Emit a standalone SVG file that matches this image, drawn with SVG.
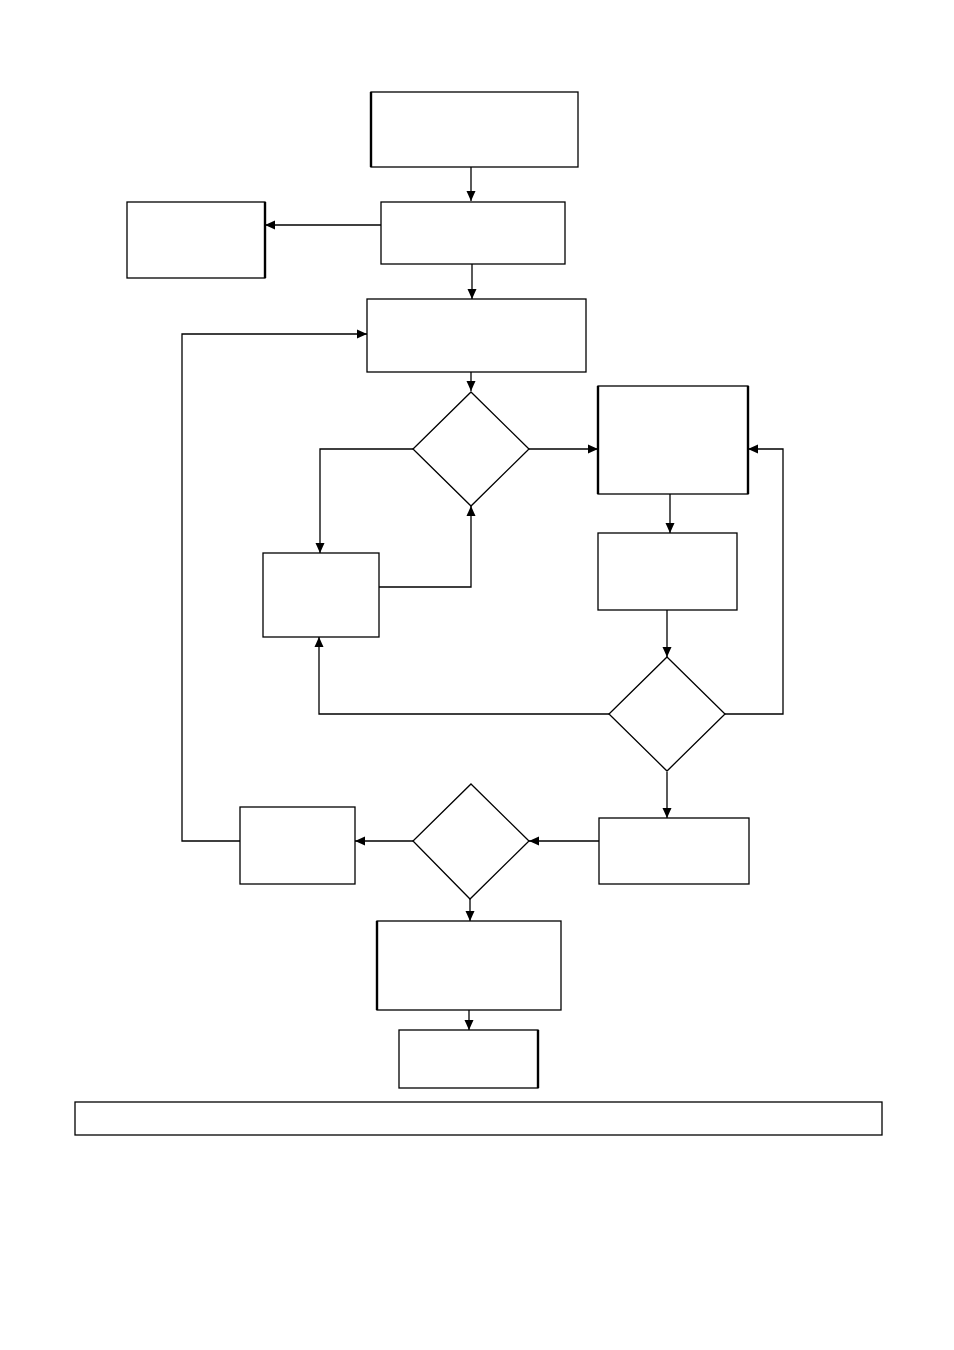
<svg xmlns="http://www.w3.org/2000/svg" width="954" height="1350" viewBox="0 0 954 1350">
<style>
.n{fill:#fff;stroke:#000;stroke-width:1.3}
.t{stroke:#000;stroke-width:2.4;fill:none}
.c{fill:none;stroke:#000;stroke-width:1.3}
</style>
<defs>
<marker id="ah" viewBox="0 0 10 10" refX="10" refY="5" markerWidth="10" markerHeight="10" markerUnits="userSpaceOnUse" orient="auto">
<path d="M0,0.5 L10,5 L0,9.5 Z" fill="#000"/>
</marker>
</defs>
<rect width="954" height="1350" fill="#fff"/>
<g id="connectors">
<path class="c" d="M471,167 V201" marker-end="url(#ah)"/>
<path class="c" d="M381,225 H265" marker-end="url(#ah)"/>
<path class="c" d="M472,264 V299" marker-end="url(#ah)"/>
<path class="c" d="M471,372 V391" marker-end="url(#ah)"/>
<path class="c" d="M529,449 H598" marker-end="url(#ah)"/>
<path class="c" d="M670,494 V533" marker-end="url(#ah)"/>
<path class="c" d="M667,610 V657" marker-end="url(#ah)"/>
<path class="c" d="M725,714 H783 V449 H748" marker-end="url(#ah)"/>
<path class="c" d="M609,714 H319 V637" marker-end="url(#ah)"/>
<path class="c" d="M413,449 H320 V553" marker-end="url(#ah)"/>
<path class="c" d="M379,587 H471 V506" marker-end="url(#ah)"/>
<path class="c" d="M667,772 V818" marker-end="url(#ah)"/>
<path class="c" d="M599,841 H529" marker-end="url(#ah)"/>
<path class="c" d="M413,841 H355" marker-end="url(#ah)"/>
<path class="c" d="M240,841 H182 V334 H367" marker-end="url(#ah)"/>
<path class="c" d="M470,899 V921" marker-end="url(#ah)"/>
<path class="c" d="M469,1010 V1030" marker-end="url(#ah)"/>
</g>
<g id="n1"><rect class="n" x="371" y="92" width="207" height="75"/><path class="t" d="M371,92 V167"/></g>
<g id="n2"><rect class="n" x="381" y="202" width="184" height="62"/></g>
<g id="n3"><rect class="n" x="127" y="202" width="138" height="76"/><path class="t" d="M265,202 V278"/></g>
<g id="n4"><rect class="n" x="367" y="299" width="219" height="73"/></g>
<g id="d1"><path class="n" d="M471,392 L529,449 L471,506 L413,449 Z"/></g>
<g id="n5"><rect class="n" x="598" y="386" width="150" height="108"/><path class="t" d="M598,386 V494 M748,386 V494"/></g>
<g id="n6"><rect class="n" x="598" y="533" width="139" height="77"/></g>
<g id="n7"><rect class="n" x="263" y="553" width="116" height="84"/></g>
<g id="d2"><path class="n" d="M667,657 L725,714 L667,771 L609,714 Z"/></g>
<g id="n8"><rect class="n" x="599" y="818" width="150" height="66"/></g>
<g id="d3"><path class="n" d="M471,784 L529,841 L470,899 L413,841 Z"/></g>
<g id="n9"><rect class="n" x="240" y="807" width="115" height="77"/></g>
<g id="n10"><rect class="n" x="377" y="921" width="184" height="89"/><path class="t" d="M377,921 V1010"/></g>
<g id="n11"><rect class="n" x="399" y="1030" width="139" height="58"/><path class="t" d="M538,1030 V1088"/></g>
<g id="n12"><rect class="n" x="75" y="1102" width="807" height="33"/></g>
</svg>
